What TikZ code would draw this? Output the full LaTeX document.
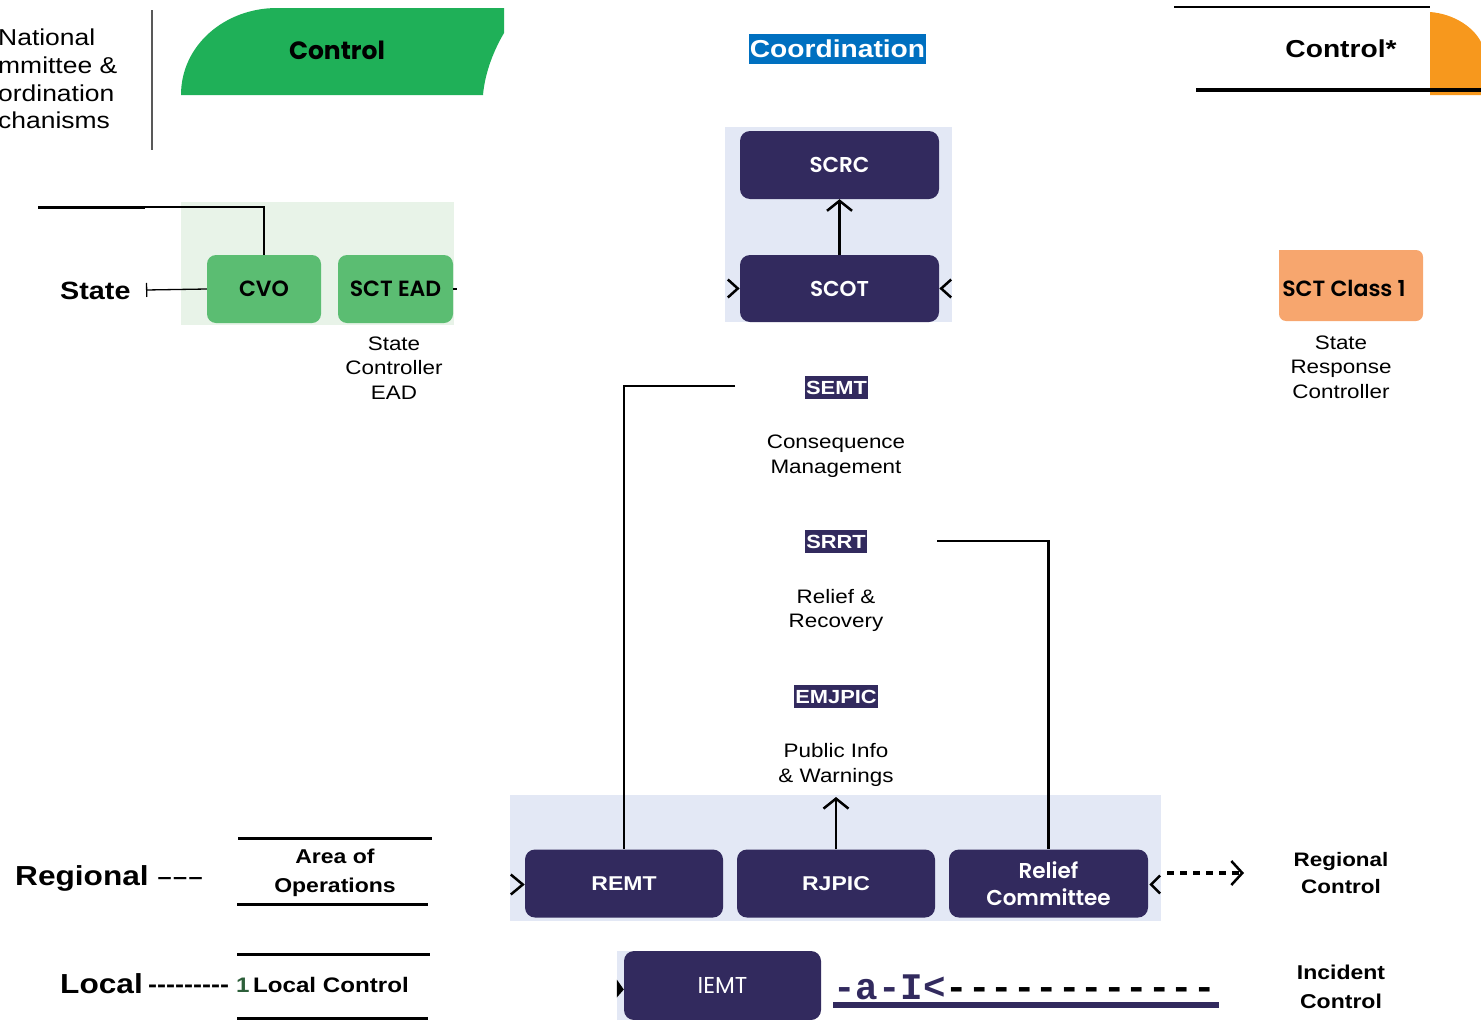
\documentclass[tikz,border=0pt]{standalone}
\usepackage{fontspec}
\setmainfont{Liberation Sans}
\newfontfamily\ar{Liberation Sans}[FakeStretch=1.15]
\newfontfamily\pop{Poppins}
\newfontfamily\popm{Poppins}[BoldFont={Poppins SemiBold}]
\newfontfamily\mono{Liberation Mono}
\usetikzlibrary{arrows.meta}
\definecolor{navy}{HTML}{322A5E}
\definecolor{lblue}{HTML}{E3E8F5}
\definecolor{lgreen}{HTML}{E8F3E8}
\definecolor{gbox}{HTML}{5BBD72}
\definecolor{gshape}{HTML}{1FB058}
\definecolor{obox}{HTML}{F7A66E}
\definecolor{oshape}{HTML}{F7981D}
\definecolor{cblue}{HTML}{0070C0}
\definecolor{dgreen}{HTML}{2D5F3A}
\tikzset{
  navybox/.style={fill=navy, rounded corners=10pt, text=white, minimum width=198pt, minimum height=68pt, inner sep=0pt, font=\popm\bfseries\fontsize{21.5}{27}\selectfont, align=center},
  greenbox/.style={fill=gbox, rounded corners=9pt, text=black, minimum width=114pt, minimum height=68pt, inner sep=0pt, font=\popm\bfseries\fontsize{22}{27}\selectfont},
  txt/.style={font=\ar\fontsize{19.5}{24.5}\selectfont, align=center, inner sep=0pt},
  btxt/.style={font=\ar\bfseries\fontsize{20}{28.5}\selectfont, align=center, inner sep=0pt},
  tag/.style={fill=navy, text=white, font=\ar\bfseries\fontsize{19}{20}\selectfont, inner xsep=1.5pt, inner ysep=0pt, minimum height=23pt},
  conn/.style={line width=2.5pt},
  chev/.style={line width=2.5pt},
  opentip/.style={-{Straight Barb[length=10pt,width=25pt]}},
}
\begin{document}
\begin{tikzpicture}[x=1pt,y=-1pt]
\useasboundingbox (0,0) rectangle (1481,1020);
% header
\node[anchor=west, inner sep=0pt, align=left, font=\ar\fontsize{23}{27.7}\selectfont] (nat) at (-2,79) {National\\mmittee \&\\ordination\\chanisms};
\draw[gray!70!black, line width=1.2pt] (152,10) -- (152,150);
\fill[gshape] (181,95) .. controls (181,45) and (225,8) .. (277,8) -- (504,8) -- (504,33) .. controls (494,50) and (485,72) .. (483,95) -- cycle;
\node[font=\pop\bfseries\fontsize{25}{30}\selectfont] (ctrl) at (337,50) {Control};
\node[fill=cblue, text=white, font=\ar\bfseries\fontsize{24.5}{30}\selectfont, minimum width=177pt, minimum height=30pt, inner sep=0pt] (coord) at (837.5,49) {Coordination};
\draw[line width=2.5pt] (1174,7) -- (1430,7);
\fill[oshape] (1430,12) .. controls (1455,14) and (1474,28) .. (1481,42) -- (1481,95) -- (1430,95) -- cycle;
\draw[line width=4pt] (1196,90) -- (1481,90);
\node[font=\ar\bfseries\fontsize{24.5}{30}\selectfont] (ctrlstar) at (1341,49) {Control*};
% state level
\fill[lgreen] (181,202) rectangle (454,325);
\node[greenbox] (cvo) at (264,289) {CVO};
\node[greenbox, minimum width=115pt] (sctead) at (395.5,289) {SCT EAD};
\draw[line width=1.2pt] (sctead.east) -- ++(4,0);
\node[txt] (scteadlbl) at (394,368) {State\\Controller\\EAD};
\coordinate (topline) at (38,207);
\coordinate (topmid) at (145,207);
\draw[line width=3pt] (topline) -- (topmid);
\draw[line width=2.2pt] (topmid) -| (cvo.north);
\node[anchor=base west, inner sep=0pt, font=\ar\bfseries\fontsize{25}{30}\selectfont] (state) at (60,299) {State};
\coordinate (statebar) at (146,290);
\draw[line width=1.3pt, -{Bar[width=14pt]}] (cvo.west) -- (statebar);
% coordination column
\fill[lblue] (725,127) rectangle (952,322);
\node[navybox, minimum width=199pt] (scrc) at (839.5,165) {SCRC};
\node[navybox, minimum width=199pt, minimum height=67pt] (scot) at (839.5,288.5) {SCOT};
\draw[conn, opentip] (scot.north) -- (scrc.south);
\draw[chev] ([xshift=-12pt,yshift=9pt]scot.west) -- ([xshift=-2pt]scot.west) -- ([xshift=-12pt,yshift=-9pt]scot.west);
\draw[chev] ([xshift=12pt,yshift=9pt]scot.east) -- ([xshift=2pt]scot.east) -- ([xshift=12pt,yshift=-9pt]scot.east);
\fill[obox, rounded corners=7pt] (1279,250) -- (1423,250) -- (1423,321) -- (1279,321) [sharp corners] -- cycle;
\node[inner sep=0pt, font=\popm\bfseries\fontsize{22}{27}\selectfont] (sct1) at (1344,288) {SCT Class 1};
\node[txt] (srclbl) at (1341,367) {State\\Response\\Controller};
\node[tag] (semt) at (836.5,387.5) {SEMT};
\node[txt] (semtlbl) at (836,456) {Consequence\\Management};
\node[tag] (srrt) at (836,541.5) {SRRT};
\node[txt] (srrtlbl) at (836,610.5) {Relief \&\\Recovery};
\node[tag] (emjpic) at (836,696.5) {EMJPIC};
\node[txt] (emjpiclbl) at (836,765) {Public Info\\\& Warnings};
% regional
\fill[lblue] (510,795) rectangle (1161,921);
\node[navybox, font=\ar\bfseries\fontsize{20}{25}\selectfont] (remt) at (624,883.5) {REMT};
\node[navybox, font=\ar\bfseries\fontsize{20}{25}\selectfont] (rjpic) at (836,883.5) {RJPIC};
\node[navybox, minimum width=199pt] (relief) at (1048.5,883.5) {Relief\\Committee};
\coordinate (semtline) at (735,386);
\coordinate (srrtline) at (937,541);
\draw[conn] (semtline) -| (remt.north);
\draw[conn] (srrtline) -| (relief.north);
\coordinate (rjpictop) at (836,797);
\draw[conn, opentip] (rjpic.north) -- (rjpictop);
\draw[chev] ([xshift=-14pt,yshift=9pt]remt.west) -- ([xshift=-2pt,yshift=-1pt]remt.west) -- ([xshift=-14pt,yshift=-11pt]remt.west);
\draw[chev] ([xshift=12pt,yshift=8pt]relief.east) -- ([xshift=3pt,yshift=-1pt]relief.east) -- ([xshift=12pt,yshift=-10pt]relief.east);
\coordinate (da1) at (1167,873);
\coordinate (da2) at (1244,873);
\draw[line width=3.5pt, dash pattern=on 7pt off 6pt, -{Straight Barb[length=11pt,width=24pt,line width=2.5pt]}] (da1) -- (da2);
\node[btxt, font=\ar\bfseries\fontsize{19.5}{27.5}\selectfont] (regctrl) at (1341,873) {Regional\\Control};
\node[anchor=base west, inner sep=0pt, font=\ar\bfseries\fontsize{27.5}{30}\selectfont] (regional) at (15,885) {Regional \fontsize{22}{25}\selectfont\raisebox{1pt}{–\kern1.5pt–\kern1.5pt–}};
\draw[line width=3pt] (238,838) -- (432,838);
\draw[line width=3pt] (237,904) -- (428,904);
\node[btxt] (aoo) at (335,873) {Area of\\Operations};
% local
\draw[line width=3pt] (237,954) -- (430,954);
\draw[line width=3pt] (237,1018) -- (428,1018);
\node[anchor=base west, inner sep=0pt, font=\ar\bfseries\fontsize{27.5}{30}\selectfont] (local) at (60,993) {Local};
\node[anchor=base west, inner sep=0pt, font=\ar\bfseries\fontsize{23.5}{25}\selectfont] (localdash) at (148,992) {{-}{-}{-}{-}{-}{-}{-}{-}{-}};
\node[anchor=base west, inner sep=0pt, font=\ar\bfseries\fontsize{21}{25}\selectfont] (localctrl) at (236,992) {\textcolor{dgreen}{1}\,Local Control};
\fill[lblue] (617,951) rectangle (630,1020);
\node[navybox, minimum width=197pt, minimum height=69pt, font=\pop\fontsize{23}{27}\selectfont] (iemt) at (722.5,985.5) {IEMT};
\fill[black] ([xshift=-7pt,yshift=6pt]iemt.west) -- ([yshift=-4pt]iemt.west) -- ([xshift=-7pt,yshift=-12pt]iemt.west) -- cycle;
\node[anchor=base west, inner sep=0pt, font=\mono\bfseries\fontsize{37.5}{40}\selectfont] (mono) at (833,999) {\textcolor{navy}{-a-I<}------------};
\fill[navy] (833,1002) rectangle (1219,1008);
\node[btxt] (incctrl) at (1341,987) {Incident\\Control};
\end{tikzpicture}
\end{document}
